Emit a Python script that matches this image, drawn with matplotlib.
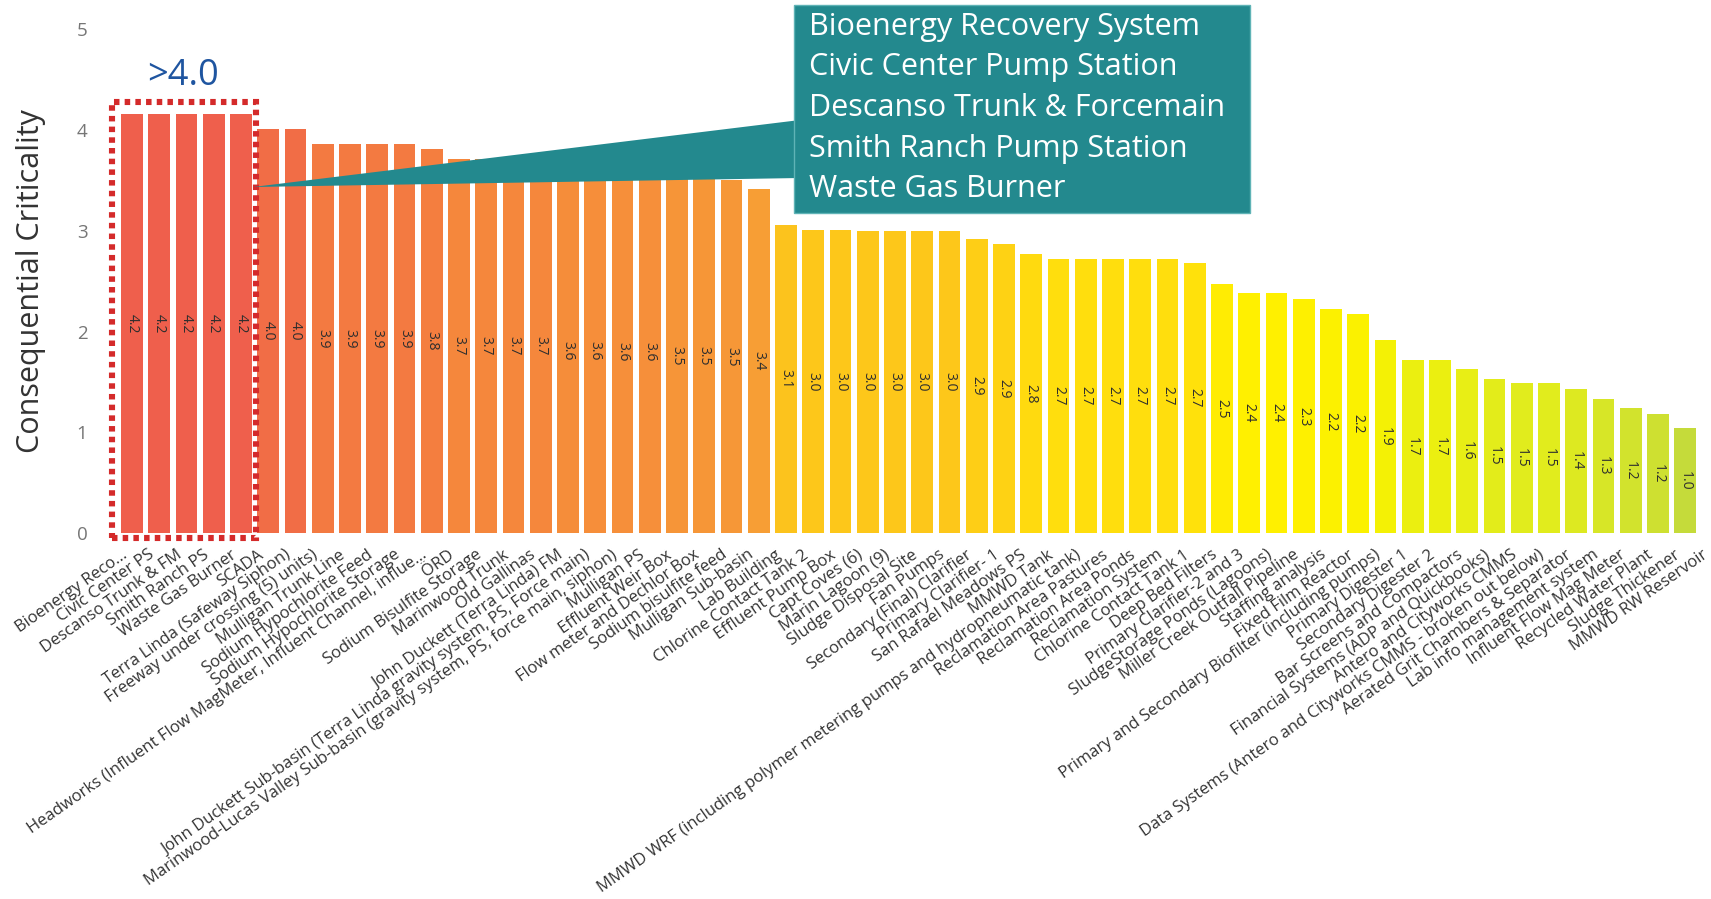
import numpy as np
import matplotlib; matplotlib.use("Agg")
import matplotlib.pyplot as plt
from matplotlib.colors import LinearSegmentedColormap
from matplotlib.patches import Polygon, Rectangle
import matplotlib.transforms as mtransforms

plt.rcParams["font.family"] = ["Open Sans", "DejaVu Sans"]

# assets ordered by consequential criticality score
assets = [
    "Bioenergy Reco...", "Civic Center PS", "Descanso Trunk & FM", "Smith Ranch PS",
    "Waste Gas Burner", "SCADA", "Terra Linda (Safeway Siphon)",
    "Freeway under crossing (5) units)", "Mulligan Trunk Line", "Sodium Hypochlorite Feed",
    "Sodium Hypochlorite Storage",
    "Headworks (Influent Flow MagMeter, Influent Channel, influe...", "ÖRD",
    "Sodium Bisulfite Storage", "Marinwood Trunk", "Old Gallinas",
    "John Duckett (Terra Linda) FM",
    "John Duckett Sub-basin (Terra Linda gravity system, PS, Force main)",
    "Marinwood-Lucas Valley Sub-basin (gravity system, PS, force main, siphon)",
    "Mulligan PS", "Effluent Weir Box", "Flow meter and Dechlor Box", "Sodium bisulfite feed",
    "Mulligan Sub-basin", "Lab Building", "Chlorine Contact Tank 2", "Effluent Pump Box",
    "Capt Coves (6)", "Marin Lagoon (9)", "Sludge Disposal Site", "Fan Pumps",
    "Secondary (Final) Clarifier", "Primary Clarifier- 1", "San Rafael Meadows PS",
    "MMWD Tank", "MMWD WRF (including polymer metering pumps and hydropneumatic tank)",
    "Reclamation Area Pastures", "Reclamation Area Ponds", "Reclamation System",
    "Chlorine Contact Tank 1", "Deep Bed Filters", "Primary Clarifier-2 and 3",
    "SludgeStorage Ponds (Lagoons)", "Miller Creek Outfall Pipeline", "Staffing analysis",
    "Fixed Film Reactor", "Primary and Secondary Biofilter (including pumps)",
    "Primary Digester 1", "Secondary Digester 2", "Bar Screens and Compactors",
    "Financial Systems (ADP and Quickbooks)", "Antero and Cityworks CMMS",
    "Data Systems (Antero and Cityworks CMMS - broken out below)",
    "Aerated Grit Chambers & Separator", "Lab info management system",
    "Influent Flow Mag Meter", "Recycled Water Plant", "Sludge Thickener", "MMWD RW Reservoir",
]
scores = [
    4.16, 4.16, 4.16, 4.16, 4.16, 4.01, 4.01, 3.86, 3.86, 3.86, 3.86, 3.81,
    3.71, 3.71, 3.71, 3.71, 3.63, 3.62, 3.61, 3.61, 3.53, 3.52, 3.51, 3.42,
    3.06, 3.01, 3.01, 3.0, 3.0, 3.0, 3.0, 2.92, 2.87, 2.77,
    2.72, 2.72, 2.72, 2.72, 2.72, 2.68, 2.47, 2.38, 2.38, 2.32, 2.22, 2.17,
    1.92, 1.72, 1.72, 1.63, 1.53, 1.49, 1.49, 1.43, 1.33, 1.24, 1.18, 1.04,
    np.nan,
]
callout_lines = ["Bioenergy Recovery System", "Civic Center Pump Station",
                 "Descanso Trunk & Forcemain", "Smith Ranch Pump Station", "Waste Gas Burner"]

vals = np.array(scores, dtype=float)
x = np.arange(len(assets))

# red -> orange -> yellow -> yellow-green scale keyed on score
stops = [(1.0, "#c3da3c"), (1.5, "#e2ec1c"), (2.0, "#f8f200"), (2.4, "#fff000"),
         (2.7, "#ffe00c"), (3.0, "#fdc81a"), (3.1, "#fbbf20"), (3.4, "#f7a034"),
         (3.7, "#f5883c"), (4.0, "#f16e45"), (4.2, "#ee5c4e")]
lo, hi = stops[0][0], stops[-1][0]
cmap = LinearSegmentedColormap.from_list(
    "crit", [((v - lo) / (hi - lo), c) for v, c in stops])
colors = [cmap((v - lo) / (hi - lo)) if np.isfinite(v) else "none" for v in vals]

W, H = 1711, 899
fig = plt.figure(figsize=(W / 100, H / 100), dpi=100)
step = 27.25                      # pixels per category
x0_px, y0_px, unit_px = 132, 533, 100.7
xmin, xmax = -0.72, 58.6
ax = fig.add_axes([(x0_px + xmin * step) / W, (H - y0_px) / H,
                   (xmax - xmin) * step / W, 5 * unit_px / H])
ax.bar(x, np.nan_to_num(vals), width=0.8, color=colors, linewidth=0)
ax.set_xlim(xmin, xmax)
ax.set_ylim(0, 5)
for s in ax.spines.values():
    s.set_visible(False)

for xi, v in zip(x, vals):
    if np.isfinite(v):
        ax.text(xi, v / 2, f"{v:.1f}", rotation=-90, ha="center", va="center",
                fontsize=10, color="#2e2e2e")

ax.set_yticks(range(6))
ax.tick_params(axis="y", length=0, pad=18, labelsize=13.5, labelcolor="#767676")
ax.set_xticks(x)
ax.set_xticklabels(assets, rotation=35, ha="right", va="top", rotation_mode="anchor",
                   fontsize=12, color="#333333")
ax.tick_params(axis="x", length=0, pad=10)
shift = mtransforms.ScaledTranslation(-11 / 100, 0, fig.dpi_scale_trans)
for lab in ax.get_xticklabels():
    lab.set_transform(lab.get_transform() + shift)
ax.set_ylabel("Consequential Criticality", fontsize=22, color="#333333", labelpad=22)

# dotted frame around the top group
top = np.where(vals > 4.05)[0]
ax.add_patch(Rectangle((top[0] - 0.73, -0.05), top[-1] - top[0] + 1.28, 4.33,
                       fill=False, edgecolor="#d42a2a", linewidth=4.4,
                       linestyle=(0, (0.9, 0.85)), clip_on=False, zorder=5))
ax.text((top[0] + top[-1]) / 2 - 0.13, 4.54, ">4.0", ha="center", va="center",
        fontsize=26, color="#1f55a0")

# callout box listing the top-group assets
def fp(px, py):
    return (px / W, 1 - py / H)

teal = "#23898e"
fig.patches.append(Polygon([fp(253, 187), fp(800, 120), fp(800, 178)], closed=True,
                           transform=fig.transFigure, facecolor=teal, edgecolor="none",
                           zorder=3))
fig.patches.append(Polygon([fp(794, 5), fp(1250, 5), fp(1250, 213), fp(794, 213)],
                           closed=True, transform=fig.transFigure, facecolor=teal,
                           edgecolor="#5fb3b6", linewidth=1, zorder=3))
for i, line in enumerate(callout_lines):
    fig.text(*fp(809, 27 + i * 40.5), line, ha="left", va="center", fontsize=22,
             color="white", zorder=4)

fig.savefig("out.png", dpi=100)
